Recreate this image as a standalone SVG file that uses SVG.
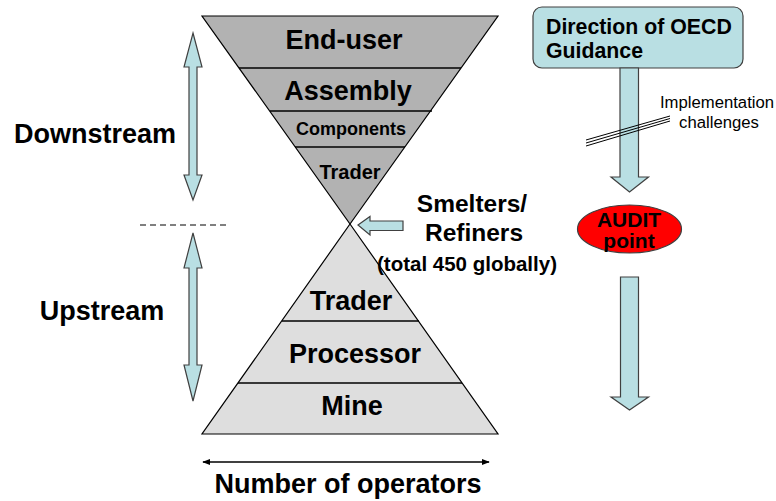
<svg xmlns="http://www.w3.org/2000/svg" width="776" height="501" viewBox="0 0 776 501">
<style>
text{font-family:"Liberation Sans",Arial,sans-serif;fill:#000}
.b{font-weight:bold}
.big{font-size:27px;font-weight:bold}
.tri{stroke:#000;stroke-width:1.2}
.sep{stroke:#000;stroke-width:1.3}
.ba{fill:#B9DFE3;stroke:#404040;stroke-width:1.2}
</style>
<defs>
<marker id="ah" viewBox="0 0 10 10" refX="9" refY="5" markerWidth="8" markerHeight="8" markerUnits="userSpaceOnUse" orient="auto-start-reverse">
<path d="M0,1 L10,5 L0,9 Z" fill="#000"/>
</marker>
</defs>
<rect width="776" height="501" fill="#fff"/>
<g id="downstream-pyramid">
<polygon class="tri" points="202,16 498,16 350,224" fill="#B2B2B2"/>
<line class="sep" x1="239" y1="68" x2="461" y2="68"/>
<line class="sep" x1="270" y1="111" x2="432" y2="111"/>
<line class="sep" x1="295" y1="147" x2="405" y2="147"/>
</g>
<g id="upstream-pyramid">
<polygon class="tri" points="350,224 498,434 202,434" fill="#DEDEDE"/>
<line class="sep" x1="282" y1="321" x2="419" y2="321"/>
<line class="sep" x1="238" y1="383" x2="462" y2="383"/>
</g>
<g id="node-enduser"><text class="big" x="344" y="49" text-anchor="middle">End-user</text></g>
<g id="node-assembly"><text class="big" x="348" y="100" text-anchor="middle">Assembly</text></g>
<g id="node-components"><text class="b" font-size="18" x="351" y="135" text-anchor="middle">Components</text></g>
<g id="node-trader-top"><text class="b" font-size="20" x="350" y="179" text-anchor="middle">Trader</text></g>
<g id="node-trader-bottom"><text class="big" x="351" y="310" text-anchor="middle">Trader</text></g>
<g id="node-processor"><text class="big" x="355" y="363" text-anchor="middle">Processor</text></g>
<g id="node-mine"><text class="big" x="352" y="415" text-anchor="middle">Mine</text></g>
<g id="node-downstream"><text class="big" x="95" y="143" text-anchor="middle">Downstream</text></g>
<g id="node-upstream"><text class="big" x="102" y="320" text-anchor="middle">Upstream</text></g>
<g id="node-smelters">
<text class="b" font-size="24.5" x="472" y="212" text-anchor="middle">Smelters/</text>
<text class="b" font-size="24.5" x="474" y="241" text-anchor="middle">Refiners</text>
<text class="b" font-size="20.5" x="467" y="271" text-anchor="middle">(total 450 globally)</text>
</g>
<g id="node-oecd">
<rect x="533" y="7" width="210" height="61" rx="9" ry="9" fill="#B9DFE3" stroke="#404040" stroke-width="1.2"/>
<text class="b" font-size="21.3" x="546" y="34">Direction of OECD</text>
<text class="b" font-size="21.3" x="546" y="58">Guidance</text>
</g>
<g id="node-audit">
<ellipse cx="629.5" cy="229" rx="52" ry="24" fill="#FF0000" stroke="#404040" stroke-width="1.2"/>
<text class="b" font-size="21" x="629" y="227" text-anchor="middle" fill="#1a0000">AUDIT</text>
<text class="b" font-size="21" x="629" y="248" text-anchor="middle" fill="#1a0000">point</text>
</g>
<g id="node-implementation">
<text font-size="16.7" x="717" y="108" text-anchor="middle">Implementation</text>
<text font-size="16.7" x="719" y="128" text-anchor="middle">challenges</text>
</g>
<g id="node-operators">
<text class="big" x="348" y="493" text-anchor="middle">Number of operators</text>
</g>
<g id="connectors">
<polygon class="ba" points="193,33 202,67 197,67 197,175 202,175 193,200 184,175 189,175 189,67 184,67"/>
<polygon class="ba" points="193,233 202,268 197,268 197,365 202,365 193,401 184,365 189,365 189,268 184,268"/>
<line x1="140" y1="225" x2="227" y2="225" stroke="#000" stroke-width="1" stroke-dasharray="6,4"/>
<polygon class="ba" points="358,225 370,216.5 370,221 403,221 403,230.5 370,230.5 370,235"/>
<polygon class="ba" points="620,68 638.5,68 638.5,177 648.5,177 629.5,192 611,177 620,177"/>
<polygon class="ba" points="620.5,277 638.5,277 638.5,397 648.5,397 629.5,410 611,397 620.5,397"/>
<g stroke="#000" stroke-width="1">
<line x1="586" y1="140" x2="670" y2="116"/>
<line x1="586" y1="143" x2="670" y2="118.5"/>
<line x1="586" y1="146" x2="670" y2="121"/>
</g>
<line x1="203" y1="462" x2="489" y2="462" stroke="#000" stroke-width="1.5" marker-start="url(#ah)" marker-end="url(#ah)"/>
</g>
</svg>
